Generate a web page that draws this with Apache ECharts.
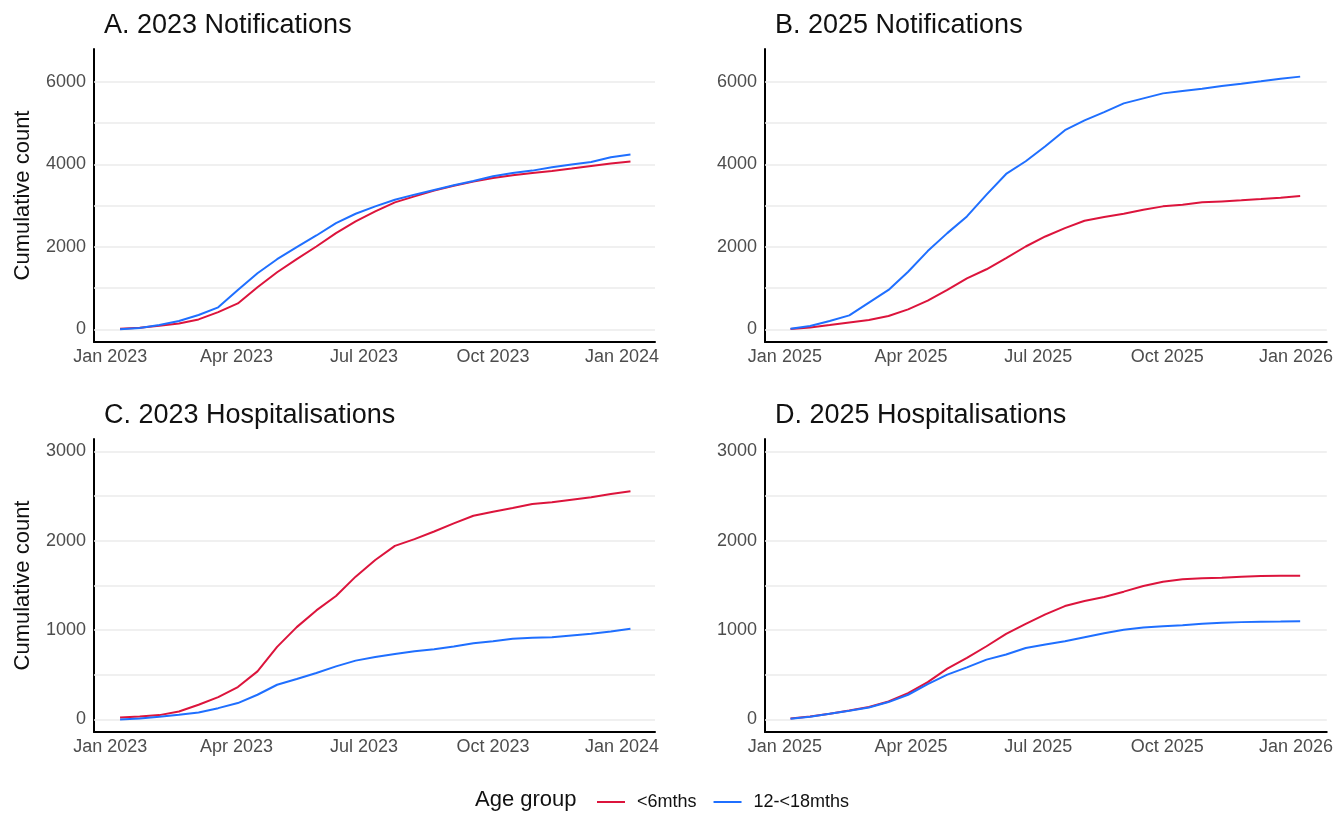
<!DOCTYPE html>
<html>
<head>
<meta charset="utf-8">
<title>Cumulative count by age group</title>
<script src="https://cdn.jsdelivr.net/npm/echarts@6/dist/echarts.min.js"></script>
<style>
  html, body { margin: 0; padding: 0; background: #ffffff; }
  #chart { width: 1336px; height: 813px; }
</style>
</head>
<body>
<div id="chart"></div>
<script>
// fortnightly points
const dates2023 = ['2023-01-08', '2023-01-22', '2023-02-05', '2023-02-19', '2023-03-05', '2023-03-19', '2023-04-02',
  '2023-04-16', '2023-04-30', '2023-05-14', '2023-05-28', '2023-06-11', '2023-06-25', '2023-07-09', '2023-07-23',
  '2023-08-06', '2023-08-20', '2023-09-03', '2023-09-17', '2023-10-01', '2023-10-15', '2023-10-29', '2023-11-12',
  '2023-11-26', '2023-12-10', '2023-12-24', '2024-01-07']
const dates2025 = ['2025-01-05', '2025-01-19', '2025-02-02', '2025-02-16', '2025-03-02', '2025-03-16', '2025-03-30',
  '2025-04-13', '2025-04-27', '2025-05-11', '2025-05-25', '2025-06-08', '2025-06-22', '2025-07-06', '2025-07-20',
  '2025-08-03', '2025-08-17', '2025-08-31', '2025-09-14', '2025-09-28', '2025-10-12', '2025-10-26', '2025-11-09',
  '2025-11-23', '2025-12-07', '2025-12-21', '2026-01-04']

const notif2023Under6 = [16, 40, 89, 146, 243, 420, 630, 1022, 1386, 1703, 2011, 2335, 2619, 2862, 3081, 3227, 3365,
  3486, 3584, 3673, 3738, 3795, 3843, 3900, 3965, 4022, 4070]
const notif2023Older = [5, 32, 105, 203, 349, 535, 957, 1362, 1703, 1995, 2278, 2578, 2805, 2984, 3146, 3268, 3381,
  3495, 3600, 3713, 3795, 3851, 3932, 3997, 4062, 4176, 4240]
const notif2025Under6 = [8, 49, 105, 170, 227, 324, 486, 697, 957, 1240, 1459, 1727, 2011, 2254, 2457, 2635, 2724,
  2805, 2903, 2984, 3024, 3081, 3105, 3130, 3162, 3195, 3235]
const notif2025Older = [16, 81, 203, 341, 649, 957, 1400, 1900, 2335, 2741, 3268, 3770, 4078, 4443, 4832, 5068, 5270,
  5481, 5603, 5724, 5781, 5838, 5903, 5959, 6016, 6081, 6130]
const hosp2023Under6 = [22, 34, 49, 90, 165, 251, 363, 539, 813, 1034, 1221, 1382, 1599, 1785, 1944, 2019, 2105,
  2195, 2281, 2326, 2367, 2412, 2431, 2460, 2487, 2524, 2554]
const hosp2023Older = [0, 11, 30, 52, 79, 127, 184, 277, 389, 453, 521, 595, 659, 700, 734, 764, 786, 816, 854, 876,
  903, 914, 921, 940, 959, 985, 1015]
const hosp2025Under6 = [11, 34, 64, 101, 139, 202, 296, 419, 569, 689, 820, 959, 1071, 1176, 1270, 1326, 1371, 1431,
  1494, 1543, 1569, 1580, 1588, 1599, 1607, 1610, 1610]
const hosp2025Older = [7, 30, 64, 97, 135, 195, 277, 397, 502, 584, 670, 727, 801, 839, 876, 921, 966, 1004, 1030,
  1045, 1056, 1071, 1082, 1090, 1094, 1097, 1101]

const xTicks2023 = ['2023-01-01', '2023-04-01', '2023-07-01', '2023-10-01', '2024-01-01']
const xTicks2025 = ['2025-01-01', '2025-04-01', '2025-07-01', '2025-10-01', '2026-01-01']
const yTicksNotif = [0, 2000, 4000, 6000]
const yGridNotif = [0, 1000, 2000, 3000, 4000, 5000, 6000]
const yTicksHosp = [0, 1000, 2000, 3000]
const yGridHosp = [0, 500, 1000, 1500, 2000, 2500, 3000]

const panelTitles = ['A. 2023 Notifications', 'B. 2025 Notifications', 'C. 2023 Hospitalisations', 'D. 2025 Hospitalisations']
const groupNames = ['<6mths', '12-<18mths']

const FONT = '"Liberation Sans", Arial, sans-serif'
const RED = '#DC143C'
const BLUE = '#1F6FFF'
const MONTHS = ['Jan', 'Feb', 'Mar', 'Apr', 'May', 'Jun', 'Jul', 'Aug', 'Sep', 'Oct', 'Nov', 'Dec']

const toTime = s => {
  const [y, m, d] = s.split('-').map(Number)
  return new Date(y, m - 1, d).getTime()
}

const chart = echarts.init(document.getElementById('chart'))

const grids = [
  { left: 94, top: 49, width: 561, height: 293 },
  { left: 765, top: 49, width: 565, height: 293 },
  { left: 94, top: 439, width: 561, height: 293 },
  { left: 765, top: 439, width: 565, height: 293 }
]

// x is a plain value axis holding timestamps, labels only at quarter starts
function makeX(gridIndex, min, max, ticks) {
  return {
    type: 'value',
    gridIndex,
    min: new Date(min[0], min[1], min[2], min[3] || 0).getTime(),
    max: new Date(max[0], max[1], max[2], max[3] || 0).getTime(),
    axisLine: { show: true, onZero: false, lineStyle: { color: '#000', width: 2 } },
    axisTick: { show: false },
    splitLine: { show: false },
    axisLabel: {
      customValues: ticks.map(toTime),
      formatter: v => { const d = new Date(v); return MONTHS[d.getMonth()] + ' ' + d.getFullYear() },
      color: '#4d4d4d',
      fontSize: 18,
      fontFamily: FONT,
      margin: 6,
      hideOverlap: false
    }
  }
}

function makeY(gridIndex, min, max, ticks, name) {
  return {
    type: 'value',
    gridIndex,
    min,
    max,
    name: name || '',
    nameLocation: 'middle',
    nameGap: 60,
    nameTextStyle: { fontSize: 22, color: '#111', fontFamily: FONT },
    axisLine: { show: true, onZero: false, lineStyle: { color: '#000', width: 2 } },
    axisTick: { show: false },
    splitLine: { show: false },
    axisLabel: {
      customValues: ticks,
      formatter: v => String(v),
      color: '#4d4d4d',
      fontSize: 18,
      fontFamily: FONT,
      margin: 8
    }
  }
}

function gridLines(values) {
  return {
    silent: true,
    symbol: 'none',
    z: 1,
    label: { show: false },
    emphasis: { disabled: true },
    lineStyle: { color: '#ebebeb', width: 1.5, type: 'solid' },
    data: values.map(v => ({ yAxis: v }))
  }
}

function makeSeries(idx, name, color, dates, values, gridVals) {
  const s = {
    name,
    type: 'line',
    xAxisIndex: idx,
    yAxisIndex: idx,
    data: dates.map((d, i) => [toTime(d), values[i]]),
    showSymbol: false,
    symbol: 'none',
    z: 3,
    itemStyle: { color },
    lineStyle: { color, width: 2 },
    emphasis: { disabled: true }
  }
  if (gridVals) s.markLine = gridLines(gridVals)
  return s
}

const titleStyle = { fontFamily: FONT, fontSize: 27, fontWeight: 'normal', color: '#111' }

const option = {
  animation: false,
  backgroundColor: '#ffffff',
  title: [
    { text: panelTitles[0], left: 104, top: 12, padding: 0, textStyle: titleStyle },
    { text: panelTitles[1], left: 775, top: 12, padding: 0, textStyle: titleStyle },
    { text: panelTitles[2], left: 104, top: 402, padding: 0, textStyle: titleStyle },
    { text: panelTitles[3], left: 775, top: 402, padding: 0, textStyle: titleStyle },
    { text: 'Age group', left: 475, top: 789, padding: 0, textStyle: { fontFamily: FONT, fontSize: 22, fontWeight: 'normal', color: '#111' } }
  ],
  legend: {
    data: groupNames,
    left: 597,
    top: 793,
    padding: 0,
    icon: 'rect',
    itemWidth: 28,
    itemHeight: 2,
    itemGap: 17,
    textStyle: { fontFamily: FONT, fontSize: 18, color: '#111', padding: [0, 0, 0, 7] }
  },
  grid: grids,
  xAxis: [
    makeX(0, [2022, 11, 20, 10], [2024, 0, 24, 12], xTicks2023),
    makeX(1, [2024, 11, 17, 19], [2026, 0, 23], xTicks2025),
    makeX(2, [2022, 11, 20, 10], [2024, 0, 24, 12], xTicks2023),
    makeX(3, [2024, 11, 17, 19], [2026, 0, 23], xTicks2025)
  ],
  yAxis: [
    makeY(0, -305, 6800, yTicksNotif, 'Cumulative count'),
    makeY(1, -305, 6800, yTicksNotif),
    makeY(2, -140, 3140, yTicksHosp, 'Cumulative count'),
    makeY(3, -140, 3140, yTicksHosp)
  ],
  series: [
    makeSeries(0, groupNames[0], RED, dates2023, notif2023Under6, yGridNotif),
    makeSeries(0, groupNames[1], BLUE, dates2023, notif2023Older),
    makeSeries(1, groupNames[0], RED, dates2025, notif2025Under6, yGridNotif),
    makeSeries(1, groupNames[1], BLUE, dates2025, notif2025Older),
    makeSeries(2, groupNames[0], RED, dates2023, hosp2023Under6, yGridHosp),
    makeSeries(2, groupNames[1], BLUE, dates2023, hosp2023Older),
    makeSeries(3, groupNames[0], RED, dates2025, hosp2025Under6, yGridHosp),
    makeSeries(3, groupNames[1], BLUE, dates2025, hosp2025Older)
  ]
}

chart.setOption(option)
window.addEventListener('resize', () => chart.resize())
</script>
</body>
</html>
